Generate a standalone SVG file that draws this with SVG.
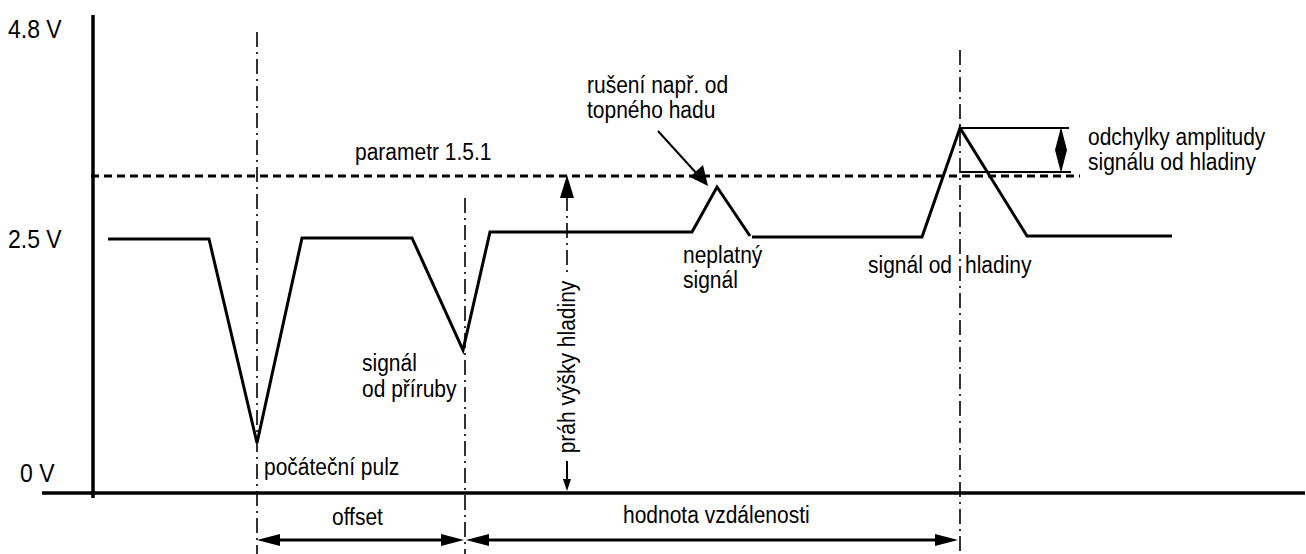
<svg xmlns="http://www.w3.org/2000/svg" width="1306" height="554" viewBox="0 0 1306 554">
  <style>
    text { font-family: "Liberation Sans", Arial, sans-serif; font-size: 21px; fill: #000; }
    .axlbl { font-size: 23px; }
    .axis { stroke: #000; stroke-width: 3.5; fill: none; }
    .sig { stroke: #000; stroke-width: 3; fill: none; stroke-linejoin: miter; }
    .thr { stroke: #000; stroke-width: 3; fill: none; stroke-dasharray: 8 5; }
    .center { stroke: #000; stroke-width: 1.6; fill: none; stroke-dasharray: 15 5 2 5; }
    .dim { stroke: #000; stroke-width: 3; fill: none; }
    .thin { stroke: #000; stroke-width: 2; fill: none; }
    .head { fill: #000; stroke: none; }
  </style>
  <rect width="1306" height="554" fill="#fff"/>

  <!-- axes -->
  <g id="axes">
    <line class="axis" x1="93" y1="15" x2="93" y2="498"/>
    <line class="axis" x1="42" y1="493" x2="1305" y2="493"/>
    <text class="axlbl" transform="translate(8 38) scale(1 1.1)">4.8 V</text>
    <text class="axlbl" transform="translate(8 248) scale(1 1.1)">2.5 V</text>
    <text class="axlbl" transform="translate(20 482) scale(1 1.1)">0 V</text>
  </g>

  <!-- threshold level (parametr 1.5.1) -->
  <g id="threshold">
    <line class="thr" x1="91" y1="176" x2="1080" y2="176"/>
    <text transform="translate(355 160) scale(1 1.12)">parametr 1.5.1</text>
  </g>

  <!-- centre lines of the pulses -->
  <g id="centerlines">
    <line class="center" x1="257" y1="32" x2="257" y2="554"/>
    <line class="center" x1="465" y1="198" x2="465" y2="554"/>
    <line class="center" x1="960" y1="50" x2="960" y2="554"/>
  </g>

  <!-- signal trace -->
  <g id="signal">
    <polyline class="sig" points="108,239 209,239 257,443 302,238 412,238 463,350 490,232 692,232 717,187 750,236"/>
    <polyline class="sig" points="752,237 922,237 960,128 1027,236 1172,236"/>
  </g>

  <!-- start pulse -->
  <g id="start-pulse">
    <text transform="translate(264 475) scale(1 1.12)">počáteční pulz</text>
  </g>

  <!-- flange signal -->
  <g id="flange">
    <text transform="translate(362 371) scale(1 1.12)">signál</text>
    <text transform="translate(362 397) scale(1 1.12)">od příruby</text>
  </g>

  <!-- threshold height dimension -->
  <g id="threshold-height">
    <line class="center" x1="567" y1="196" x2="567" y2="276"/>
    <polygon class="head" points="567,175 560,198 574,198"/>
    <line class="thin" x1="567" y1="461" x2="567" y2="480"/>
    <polygon class="head" points="567,491 563,479 571,479"/>
    <text text-anchor="middle" transform="translate(575 367) rotate(-90) scale(1 1.12)">práh výšky hladiny</text>
  </g>

  <!-- interference -->
  <g id="interference">
    <text transform="translate(587 93) scale(1 1.12)">rušení např. od</text>
    <text transform="translate(587 118) scale(1 1.12)">topného hadu</text>
    <line class="thin" x1="658" y1="131" x2="698" y2="175"/>
    <polygon class="head" points="708,186 690,177 703,165"/>
    <text transform="translate(683 263) scale(1 1.12)">neplatný</text>
    <text transform="translate(683 288) scale(1 1.12)">signál</text>
  </g>

  <!-- level signal -->
  <g id="level-signal">
    <text transform="translate(868 273) scale(1 1.12)">signál od</text>
    <text transform="translate(965 273) scale(1 1.12)">hladiny</text>
  </g>

  <!-- amplitude deviation -->
  <g id="amplitude">
    <line class="thin" x1="960" y1="128" x2="1069" y2="128"/>
    <line class="thin" x1="960" y1="172" x2="1071" y2="172"/>
    <polygon class="head" points="1061,127 1067,150 1061,173 1055,150"/>
    <text transform="translate(1088 145) scale(1 1.12)">odchylky amplitudy</text>
    <text transform="translate(1088 170) scale(1 1.12)">signálu od hladiny</text>
  </g>

  <!-- distance dimensions -->
  <g id="connectors">
    <line class="dim" x1="270" y1="540" x2="452" y2="540"/>
    <polygon class="head" points="257,540 280,534 280,546"/>
    <polygon class="head" points="464,540 441,534 441,546"/>
    <line class="dim" x1="478" y1="540" x2="946" y2="540"/>
    <polygon class="head" points="466,540 489,534 489,546"/>
    <polygon class="head" points="958,540 935,534 935,546"/>
    <text transform="translate(332 525) scale(1 1.12)">offset</text>
    <text transform="translate(623 523) scale(1 1.12)">hodnota vzdálenosti</text>
  </g>
</svg>
